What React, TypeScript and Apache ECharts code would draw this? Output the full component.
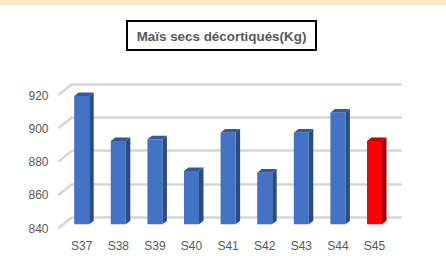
import React, { useEffect, useRef } from "react";
import * as echarts from "echarts";

const categories = ["S37", "S38", "S39", "S40", "S41", "S42", "S43", "S44", "S45"];
const values = [917, 890, 891, 872, 895, 871, 895, 907, 890];
const yTicks = [840, 860, 880, 900, 920];
const highlightCategory = "S45";
const titleText = "Maïs secs décortiqués(Kg)";

const FONT = "'Liberation Sans', Arial, sans-serif";
const W = 446;
const H = 271;

// depth offsets
const WALL_DX = -13.5;
const WALL_DY = 11;
const BAR_DX = 4.5;
const BAR_DY = -3.6;

export default function App() {
  const ref = useRef<HTMLDivElement | null>(null);

  useEffect(() => {
    if (!ref.current) return;
    const chart = echarts.init(ref.current, undefined, { renderer: "svg" });
    const yMin = yTicks[0];
    const yMax = yTicks[yTicks.length - 1];
    const yInterval = yTicks[1] - yTicks[0];

    const hiddenX = (gridIndex: number, show: boolean) => ({
      type: "category" as const,
      gridIndex,
      data: categories,
      axisLine: { show: false },
      axisTick: { show: false },
      axisLabel: show
        ? { show: true, color: "#595959", fontFamily: FONT, fontSize: 12, margin: 15.5 }
        : { show: false },
      splitLine: { show: false },
    });

    const valueY = (gridIndex: number, labels: boolean, split: boolean) => ({
      type: "value" as const,
      gridIndex,
      min: yMin,
      max: yMax,
      interval: yInterval,
      axisLine: { show: false },
      axisTick: { show: false },
      axisLabel: labels
        ? { show: true, color: "#595959", fontFamily: FONT, fontSize: 12, margin: 10 }
        : { show: false },
      splitLine: split
        ? { show: true, lineStyle: { color: "#d6d6d6", width: 2.5 } }
        : { show: false },
    });

    const option: any = {
      animation: false,
      backgroundColor: "#ffffff",
      grid: [
        // 0: bar plane
        { left: 63.4, width: 329.4, top: 91, bottom: H - 224.3 },
        // 1: back wall
        { left: 72, width: 329.7, top: 84, bottom: H - 217.3 },
        // 2: front edge (labels)
        { left: 58.5, width: 329.7, top: 95.5, bottom: H - 228.5 },
      ],
      xAxis: [hiddenX(0, true), hiddenX(1, false), hiddenX(2, false)],
      yAxis: [valueY(0, false, false), valueY(1, false, true), valueY(2, true, false)],
      graphic: [
        {
          type: "rect",
          left: 0,
          top: 0,
          shape: { x: 0, y: 0, width: W, height: 5 },
          style: { fill: "#fde6c7" },
          silent: true,
        },
        {
          type: "rect",
          shape: { x: 127, y: 21, width: 189, height: 29 },
          style: { fill: "#ffffff", stroke: "#000000", lineWidth: 2 },
          silent: true,
        },
        {
          type: "text",
          x: 221.5,
          y: 36,
          style: {
            text: titleText,
            fill: "#595959",
            font: `bold 13.4px ${FONT}`,
            align: "center",
            verticalAlign: "middle",
          },
          silent: true,
        },
      ],
      series: [
        {
          type: "custom",
          name: "walls",
          xAxisIndex: 1,
          yAxisIndex: 1,
          silent: true,
          data: yTicks.map((v) => [0, v]),
          encode: { x: 0, y: 1 },
          renderItem: (params: any, api: any) => {
            const p = api.coord([0, api.value(1)]);
            const x0 = params.coordSys.x;
            return {
              type: "line",
              shape: { x1: x0, y1: p[1], x2: x0 + WALL_DX, y2: p[1] + WALL_DY },
              style: { stroke: "#d6d6d6", lineWidth: 2.5 },
            };
          },
          z: 1,
        },
        {
          type: "custom",
          name: "bars",
          xAxisIndex: 0,
          yAxisIndex: 0,
          data: values.map((v, i) => [i, v]),
          encode: { x: 0, y: 1 },
          renderItem: (params: any, api: any) => {
            const idx = api.value(0);
            const v = api.value(1);
            const top = api.coord([idx, v]);
            const bot = api.coord([idx, yMin]);
            const bw = api.size([1, 0])[0] * 0.41;
            const xl = top[0] - bw / 2;
            const xr = top[0] + bw / 2;
            const hi = categories[idx] === highlightCategory;
            const front = hi ? "#ff0000" : "#4472c4";
            const side = hi ? "#a80000" : "#2c4a84";
            const cap = hi ? "#c80000" : "#34599f";
            return {
              type: "group",
              children: [
                {
                  type: "polygon",
                  shape: {
                    points: [
                      [xr, top[1]],
                      [xr + BAR_DX, top[1] + BAR_DY],
                      [xr + BAR_DX, bot[1] + BAR_DY],
                      [xr, bot[1]],
                    ],
                  },
                  style: { fill: side },
                },
                {
                  type: "polygon",
                  shape: {
                    points: [
                      [xl, top[1]],
                      [xl + BAR_DX, top[1] + BAR_DY],
                      [xr + BAR_DX, top[1] + BAR_DY],
                      [xr, top[1]],
                    ],
                  },
                  style: { fill: cap },
                },
                {
                  type: "rect",
                  shape: { x: xl, y: top[1], width: bw, height: bot[1] - top[1] },
                  style: { fill: front },
                },
              ],
            };
          },
          z: 3,
        },
      ],
    };

    chart.setOption(option);
    return () => {
      chart.dispose();
    };
  }, []);

  return (
    <div
      ref={ref}
      style={{ position: "fixed", left: 0, top: 0, width: W, height: H, background: "#fff" }}
    />
  );
}
